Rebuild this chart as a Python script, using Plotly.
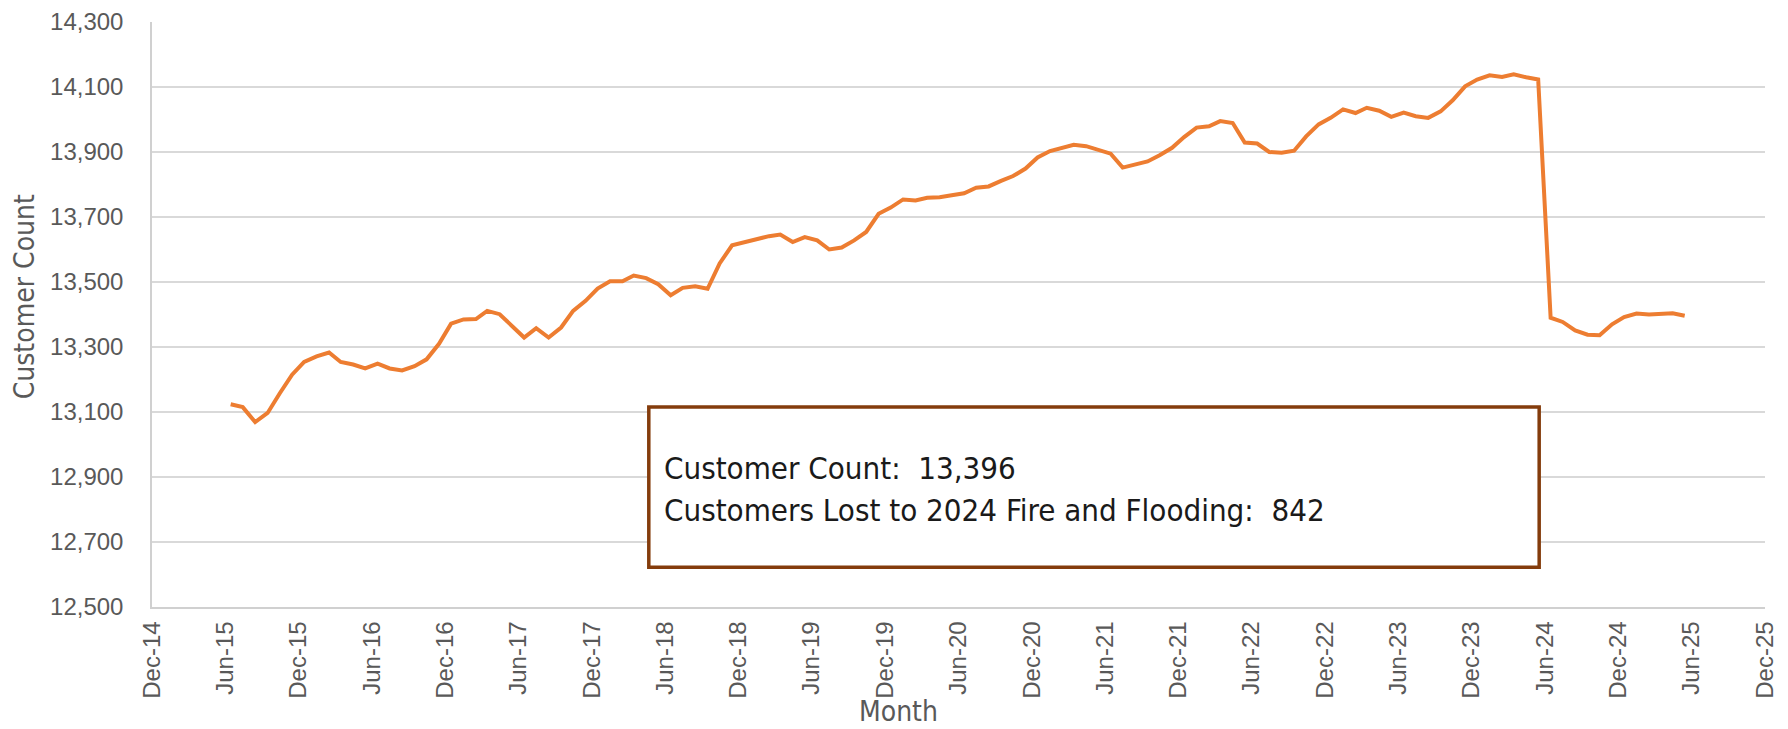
import pandas as pd
import plotly.graph_objects as go

# Monthly customer counts, Jun-15 .. May-25
start_month = "2015-06-01"
customer_count = [
    13124, 13115, 13069, 13097, 13157, 13215, 13254,            # Jun-15 .. Dec-15
    13271, 13283, 13254, 13246, 13234, 13249, 13234, 13228, 13241, 13262, 13310, 13372,  # 2016
    13385, 13386, 13411, 13401, 13367, 13329, 13358, 13329, 13360, 13411, 13442, 13480,  # 2017
    13502, 13502, 13520, 13512, 13493, 13459, 13482, 13487, 13479, 13557, 13613, 13623,  # 2018
    13633, 13641, 13646, 13623, 13638, 13628, 13600, 13606, 13628, 13654, 13710, 13729,  # 2019
    13754, 13751, 13759, 13761, 13767, 13773, 13790, 13794, 13811, 13826, 13849, 13883,  # 2020
    13903, 13912, 13922, 13918, 13908, 13895, 13852, 13861, 13871, 13890, 13913, 13946,  # 2021
    13975, 13979, 13995, 13989, 13929, 13926, 13900, 13898, 13904, 13948, 13985, 14005,  # 2022
    14031, 14020, 14036, 14027, 14008, 14021, 14010, 14005, 14025, 14059, 14102, 14123,  # 2023
    14136, 14131, 14139, 14130, 14123, 13390, 13377, 13351, 13338, 13336, 13370, 13392,  # 2024
    13403, 13400, 13401, 13404, 13396,                                                   # 2025
]
latest_count = "13,396"
customers_lost = "842"
y_ticks = [12500, 12700, 12900, 13100, 13300, 13500, 13700, 13900, 14100, 14300]
x_range = ["2014-12-01", "2025-12-01"]

months = pd.date_range(start_month, periods=len(customer_count), freq="MS")
x_dates = months + pd.Timedelta(days=14)

fig = go.Figure()
fig.add_trace(go.Scatter(
    x=x_dates, y=customer_count, mode="lines",
    line=dict(color="#ED7D31", width=4),
    showlegend=False, hoverinfo="x+y",
))

tick_font = dict(family="Liberation Sans, Arial, sans-serif", size=24, color="#595959")
title_font = dict(family="Liberation Sans Narrow, DejaVu Sans Condensed, Arial Narrow, sans-serif",
                  size=28, color="#595959")

fig.update_layout(
    width=1780, height=721,
    margin=dict(l=144, r=23, t=14, b=122),
    paper_bgcolor="white", plot_bgcolor="white",
    xaxis=dict(
        type="date", range=x_range, tick0="2014-12-01", dtick="M6",
        tickformat="%b-%y", tickangle=-90, tickfont=tick_font,
        showgrid=False, showline=True, linecolor="#D0D0D0", linewidth=1.5,
        ticks="", zeroline=False, ticklabelstandoff=3, automargin=False,
    ),
    yaxis=dict(
        range=[12500, 14300], tickvals=y_ticks, tickformat=",",
        tickfont=tick_font, showgrid=True, gridcolor="#D9D9D9", gridwidth=1.5,
        showline=True, linecolor="#D0D0D0", linewidth=1.5, ticks="",
        ticklabelstandoff=22, zeroline=False, automargin=False,
    ),
)

# axis titles
fig.add_annotation(xref="paper", yref="paper", x=0.4627, y=-0.178, xanchor="center", yanchor="middle",
                   text="Month", showarrow=False, font=title_font)
fig.add_annotation(xref="paper", yref="paper", x=-0.0785, y=0.53, xanchor="center", yanchor="middle",
                   text="Customer Count", textangle=-90, showarrow=False, font=title_font)

fig.add_shape(type="rect", xref="paper", yref="paper",
              x0=0.308, x1=0.860, y0=0.068, y1=0.342,
              line=dict(color="#843C0C", width=3.5), fillcolor="white", layer="above")

ann_font = dict(family="Liberation Sans Narrow, DejaVu Sans Condensed, Arial Narrow, sans-serif",
                size=31, color="#1a1a1a")
fig.add_annotation(xref="paper", yref="paper", x=0.316, y=0.238, xanchor="left", yanchor="middle",
                   text=f"Customer Count:  {latest_count}", showarrow=False, font=ann_font)
fig.add_annotation(xref="paper", yref="paper", x=0.316, y=0.166, xanchor="left", yanchor="middle",
                   text=f"Customers Lost to 2024 Fire and Flooding:  {customers_lost}",
                   showarrow=False, font=ann_font)

fig.write_html("out.html")
